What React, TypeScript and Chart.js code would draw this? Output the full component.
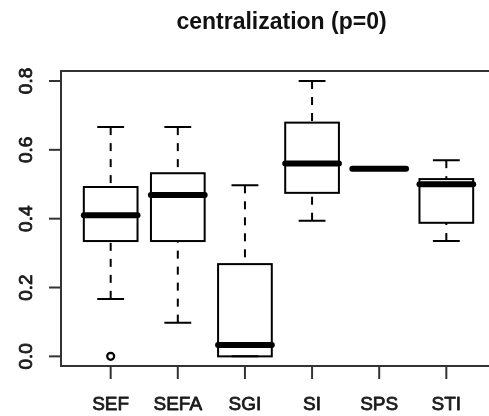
import React, { useEffect, useRef } from "react";
import { Chart, registerables } from "chart.js";

Chart.register(...registerables);

const chartTitle = "centralization (p=0)";
const categories = ["SEF", "SEFA", "SGI", "SI", "SPS", "STI"];
const whiskerLow = [0.167, 0.098, 0.0, 0.394, 0.545, 0.335];
const quartile1 = [0.335, 0.335, 0.0, 0.475, 0.545, 0.388];
const medians = [0.41, 0.469, 0.033, 0.56, 0.545, 0.5];
const quartile3 = [0.492, 0.532, 0.268, 0.679, 0.545, 0.515];
const whiskerHigh = [0.666, 0.666, 0.497, 0.8, 0.545, 0.57];
const outlierCategory = [1];
const outlierValue = [0.0];
const yTicks = [0, 0.2, 0.4, 0.6, 0.8];
const yTickLabels = ["0.0", "0.2", "0.4", "0.6", "0.8"];

const FONT = "'Liberation Sans', Arial, Helvetica, sans-serif";

function heavyText(ctx: any, s: string, x: number, y: number) {
  ctx.fillText(s, x, y);
  ctx.strokeText(s, x, y);
}

const boxPlugin = {
  id: "rbox",
  beforeDatasetsDraw(chart: any) {
    const ctx = chart.ctx;
    const xs = chart.scales.x;
    const ys = chart.scales.y;
    const unit = xs.getPixelForValue(2) - xs.getPixelForValue(1);
    const half = unit * 0.4;
    const capHalf = half * 0.5;
    ctx.save();
    ctx.strokeStyle = "#000";
    for (let i = 0; i < categories.length; i++) {
      const cx = xs.getPixelForValue(i + 1);
      const yLo = ys.getPixelForValue(whiskerLow[i]);
      const yQ1 = ys.getPixelForValue(quartile1[i]);
      const yMed = ys.getPixelForValue(medians[i]);
      const yQ3 = ys.getPixelForValue(quartile3[i]);
      const yHi = ys.getPixelForValue(whiskerHigh[i]);
      // whiskers (dashed), drawn from whisker end toward the box
      ctx.lineWidth = 2;
      ctx.lineCap = "butt";
      ctx.setLineDash([8, 8]);
      if (yHi < yQ3) {
        ctx.beginPath();
        ctx.moveTo(cx, yHi);
        ctx.lineTo(cx, yQ3);
        ctx.stroke();
      }
      if (yLo > yQ1) {
        ctx.beginPath();
        ctx.moveTo(cx, yLo);
        ctx.lineTo(cx, yQ1);
        ctx.stroke();
      }
      ctx.setLineDash([]);
      // caps
      ctx.beginPath();
      ctx.moveTo(cx - capHalf, yHi);
      ctx.lineTo(cx + capHalf, yHi);
      ctx.moveTo(cx - capHalf, yLo);
      ctx.lineTo(cx + capHalf, yLo);
      ctx.stroke();
      // box
      ctx.lineWidth = 2;
      ctx.strokeRect(cx - half, yQ3, half * 2, yQ1 - yQ3);
      // median
      ctx.lineWidth = 6;
      ctx.lineCap = "round";
      ctx.beginPath();
      ctx.moveTo(cx - half, yMed);
      ctx.lineTo(cx + half, yMed);
      ctx.stroke();
    }
    ctx.restore();
  },
  afterDraw(chart: any) {
    const ctx = chart.ctx;
    const xs = chart.scales.x;
    const ys = chart.scales.y;
    const a = chart.chartArea;
    ctx.save();
    ctx.strokeStyle = "#333";
    ctx.lineWidth = 2;
    ctx.lineCap = "butt";
    ctx.strokeRect(a.left, a.top, a.right - a.left, a.bottom - a.top);
    // tick marks
    ys.ticks.forEach((t: any) => {
      const y = ys.getPixelForValue(t.value);
      ctx.beginPath();
      ctx.moveTo(a.left - 12, y);
      ctx.lineTo(a.left, y);
      ctx.stroke();
    });
    xs.ticks.forEach((t: any) => {
      const x = xs.getPixelForValue(t.value);
      ctx.beginPath();
      ctx.moveTo(x, a.bottom);
      ctx.lineTo(x, a.bottom + 13);
      ctx.stroke();
    });
    // labels
    ctx.font = `19px ${FONT}`;
    ctx.fillStyle = "#1a1a1a";
    ctx.strokeStyle = "#1a1a1a";
    ctx.lineWidth = 0.8;
    ctx.lineJoin = "round";
    ys.ticks.forEach((t: any, k: number) => {
      const y = ys.getPixelForValue(t.value);
      ctx.save();
      ctx.translate(32, y);
      ctx.rotate(-Math.PI / 2);
      ctx.textAlign = "center";
      ctx.textBaseline = "alphabetic";
      heavyText(ctx, yTickLabels[k], 0, 0);
      ctx.restore();
    });
    xs.ticks.forEach((t: any) => {
      const x = xs.getPixelForValue(t.value);
      ctx.textAlign = "center";
      ctx.textBaseline = "alphabetic";
      heavyText(ctx, categories[t.value - 1], x, 410);
    });
    // title
    ctx.font = `bold 23px ${FONT}`;
    ctx.textAlign = "center";
    ctx.fillStyle = "#111";
    ctx.fillText(chartTitle, (a.left + a.right) / 2 + 3, 29);
    ctx.restore();
  },
};

export default function App() {
  const ref = useRef<HTMLCanvasElement | null>(null);
  useEffect(() => {
    if (!ref.current) return;
    const chart = new Chart(ref.current, {
      type: "scatter",
      data: {
        datasets: [
          {
            label: "outliers",
            data: outlierCategory.map((c, i) => ({ x: c, y: outlierValue[i] })),
            pointStyle: "circle",
            pointRadius: 3.5,
            pointBorderWidth: 2.2,
            borderColor: "#000",
            backgroundColor: "rgba(0,0,0,0)",
          },
        ],
      },
      options: {
        responsive: false,
        animation: false,
        devicePixelRatio: 1,
        layout: { padding: { left: 61, top: 71, right: 24, bottom: 50 } },
        plugins: {
          legend: { display: false },
          title: { display: false },
          tooltip: { enabled: false },
        },
        scales: {
          x: {
            type: "linear",
            display: false,
            min: 0.26,
            max: 6.74,
            afterBuildTicks: (s: any) => {
              s.ticks = categories.map((_, i) => ({ value: i + 1 }));
            },
          },
          y: {
            type: "linear",
            display: false,
            min: -0.028,
            max: 0.829,
            afterBuildTicks: (s: any) => {
              s.ticks = yTicks.map((v) => ({ value: v }));
            },
          },
        },
      },
      plugins: [boxPlugin],
    });
    return () => chart.destroy();
  }, []);
  return (
    <div
      style={{
        position: "fixed",
        left: 0,
        top: 0,
        width: 489,
        height: 416,
        overflow: "hidden",
        background: "#fff",
      }}
    >
      <canvas ref={ref} width={520} height={416} style={{ display: "block" }} />
    </div>
  );
}
